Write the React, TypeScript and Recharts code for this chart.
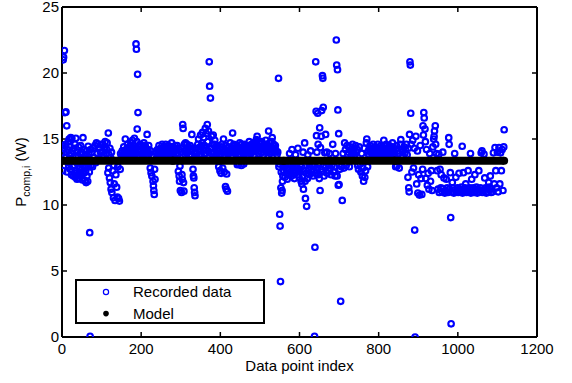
import React from 'react';
import { ScatterChart, Scatter, XAxis, YAxis, Legend } from 'recharts';

const FONT = '"Liberation Sans", Arial, Helvetica, sans-serif';

const xTicks = [0, 200, 400, 600, 800, 1000, 1200];
const yTicks = [0, 5, 10, 15, 20, 25];

// Recorded data: [data point index, P_comp,i (W)]
const recorded0: [number, number][] = [
  [0,13.9],[1,14.5],[2,12.6],[3,21.0],[4,21.2],[5,14.3],[6,21.7],[7,13.6],[8,17.0],[9,14.6],[10,17.05],[11,14.0],[12,16.0],[13,12.5],[14,14.2],[15,13.2],[16,14.8],[17,12.9],[18,15.0],[19,13.8],[20,14.4],[21,12.7],[22,15.1],[23,13.9],[24,12.3],[25,15.05],[26,14.1],[27,12.9],[28,13.6],[29,12.2],[30,14.3],[31,13.0],[32,12.4],[33,14.6],[34,12.1],[35,15.05],[36,13.7],[37,12.6],[38,11.95],[39,14.0],[40,12.3],[41,13.2],[42,14.4],[43,12.0],[44,12.8],[45,13.9],[46,12.5],[47,14.5],[48,12.2],[49,13.1],[50,14.0],[51,12.7],[52,11.9],[53,15.1],[54,13.6],[55,12.4],[56,14.2],[57,12.9],[58,11.85],[59,13.8],[60,12.6],[61,11.7],[62,14.1],[63,12.2],[64,13.5],[65,11.8],[66,14.45],[67,12.9],[68,13.9],[69,12.5],[70,7.9],[71,0.05],[72,14.2],[73,13.0],[75,14.0],[77,12.9],[79,14.3],[81,13.6],[83,14.5],[85,13.2],[87,14.7],[89,13.9],[91,14.6],[93,13.5],[95,14.3],[97,14.0],[99,14.6],
  [101,14.0],[103,14.6],[105,13.8],[107,14.4],[109,14.8],[111,13.9],[113,14.2],[114,14.7],[116,12.45],[117,15.45],[118,12.8],[119,13.8],[120,12.05],[121,14.3],[122,11.7],[123,13.6],[124,11.2],[125,14.0],[126,10.95],[128,12.6],[130,10.55],[131,13.0],[132,11.6],[134,10.35],[136,12.3],[138,11.35],[140,10.6],[141,12.9],[143,10.5],[145,10.3],[147,12.7],[148,13.9],[150,13.6],
];

const recorded1: [number, number][] = [
  [152,14.1],[153,13.8],[154,13.7],[156,14.4],[157,13.9],[158,13.9],[160,15.0],[161,14.0],[162,14.2],[164,13.6],[165,14.3],[166,14.6],[168,14.0],[169,13.8],[170,14.3],[172,13.8],[173,14.5],[174,14.7],[176,14.1],[177,13.8],[178,14.9],[180,13.9],[181,14.3],[182,14.5],[183,15.05],[185,14.2],[186,13.9],[187,22.2],[188,21.8],[189,14.8],[190,15.75],[191,19.9],[192,17.0],[193,14.4],[194,14.0],[195,13.8],[197,14.6],[198,14.2],[199,14.1],[201,14.5],[202,13.8],[203,13.9],[205,14.3],[206,14.0],[207,14.7],[209,14.0],[210,14.5],[211,14.4],[213,13.7],[214,14.2],[215,15.35],[217,14.2],[218,13.8],[219,14.5],[221,13.9],[223,12.8],[224,14.1],[225,12.45],[227,12.2],[228,13.7],[230,11.8],[231,11.45],[232,11.1],[233,10.8],[234,12.7],[235,11.95],[237,14.0],[239,13.6],
  [241,14.2],[242,13.9],[243,13.8],[245,14.5],[246,14.1],[247,14.0],[249,14.3],[250,13.9],[251,13.7],[253,14.6],[254,14.2],[255,14.1],[257,13.9],[258,14.3],[259,14.4],[261,14.0],[262,14.6],[263,13.6],[265,14.3],[266,14.0],[267,13.8],[269,14.5],[270,14.2],[271,14.0],[273,13.7],[274,14.4],[275,14.2],[277,14.7],[278,14.1],[279,13.9],[281,14.4],[282,13.8],[283,14.1],[285,13.6],[286,14.5],[287,14.3],[289,13.9],[290,14.2],[291,14.5],[293,13.8],[294,12.55],[295,14.2],[296,12.2],[297,11.8],[298,12.95],[299,11.1],[300,14.0],[302,10.95],[303,12.3],[304,11.95],[305,16.1],[306,15.8],[307,11.7],[308,11.05],[309,14.6],[310,14.1],[311,13.8],[312,14.7],[314,14.3],[315,13.9],[316,14.6],[318,14.0],[319,14.3],[320,14.4],[322,13.8],[323,14.2],[324,14.5],[326,14.1],[327,13.8],[328,15.35],[330,14.2],[331,12.7],[332,12.2],[333,12.05],[334,11.3],[335,10.95],[336,10.7],[337,13.9],
];

const recorded2: [number, number][] = [
  [339,14.3],[340,13.9],[341,13.7],[343,14.6],[344,14.2],[345,15.0],[347,14.1],[348,13.8],[349,14.4],[350,15.3],[352,13.8],[353,14.5],[354,14.7],[355,15.5],[357,14.2],[358,15.1],[359,13.9],[360,14.5],[362,15.8],[363,13.9],[364,14.3],[365,15.4],[367,16.1],[368,14.8],[369,14.1],[370,15.6],[372,20.85],[373,19.0],[375,18.1],[376,14.3],[377,13.9],[378,15.2],[380,14.6],[381,14.0],[382,15.3],[384,14.0],[385,14.6],[386,14.9],[388,14.4],[389,13.9],[390,13.8],[392,14.5],[393,14.2],[394,14.1],[396,12.9],[397,13.8],[398,14.3],[399,12.6],[401,13.9],[402,12.4],[403,14.4],[404,14.6],[406,12.8],[407,14.0],[408,15.0],[410,12.5],[411,13.8],[412,14.2],[413,11.4],[414,14.5],[415,11.2],[416,12.35],[417,14.1],[418,11.05],[419,13.8],[421,14.4],[422,13.9],[423,14.0],[425,14.7],[426,14.2],[427,13.7],[429,14.3],[430,14.0],[431,15.45],[433,14.1],[434,14.6],[435,14.5],[437,13.9],[438,14.3],[439,14.2],
  [441,14.0],[442,14.5],[443,13.05],[444,13.8],[445,14.4],[447,13.1],[448,14.1],[449,14.7],[451,13.8],[452,14.3],[453,13.0],[454,14.6],[455,14.3],[457,14.0],[458,14.4],[459,13.1],[460,13.8],[461,14.6],[463,13.9],[464,14.4],[465,14.2],[467,14.5],[468,14.0],[469,13.7],[471,14.1],[472,14.5],[473,14.8],[475,14.3],[476,13.9],[477,13.9],[479,14.6],[480,14.2],[481,14.0],[483,14.4],[484,14.7],[485,13.8],[487,14.7],[488,14.1],[489,14.2],[491,14.95],[492,14.4],[493,15.2],[495,14.5],[496,14.1],[497,13.9],[499,14.3],[500,14.7],[501,14.6],[503,14.0],[504,14.4],[505,14.8],[507,14.4],[508,14.0],[509,13.8],[511,14.6],[512,14.3],[513,14.2],[515,14.9],[516,14.5],[517,14.0],[519,14.5],[520,14.1],[521,14.3],[522,15.6],[524,14.7],[525,14.2],[526,13.9],[528,14.4],[529,14.0],[530,14.8],[531,15.1],[533,14.2],[534,14.5],[535,14.6],[537,14.0],[538,14.3],[539,14.5],[541,14.1],[543,13.8],
];

const recorded3: [number, number][] = [
  [545,14.0],[547,19.6],[548,12.9],[549,13.1],[550,9.3],[551,8.4],[552,4.2],[553,11.3],[554,12.5],[555,10.9],[556,11.1],[557,11.8],[558,12.2],[559,13.0],[560,12.6],[562,12.9],[563,12.1],[565,13.1],[566,12.4],[568,12.8],[569,11.95],[571,13.05],[572,12.3],[574,12.7],[575,13.9],[577,12.5],[578,13.0],[580,12.2],[581,14.2],[583,12.8],[584,13.1],[586,12.4],[587,12.0],[589,12.9],[590,13.8],[592,12.6],[593,13.0],[595,12.3],[596,14.3],[598,12.7],[599,12.1],[601,13.05],[602,12.5],[604,11.8],[605,12.9],[606,11.6],[608,12.2],[609,14.0],[610,11.2],[611,12.6],[613,14.7],[614,11.8],[615,10.5],[617,12.4],[618,9.9],[620,12.0],[621,13.8],[622,12.7],[624,13.1],[625,12.3],[627,12.9],[628,14.1],[630,12.5],[632,13.0],[634,12.2],
  [636,12.6],[637,13.0],[638,0.05],[639,6.8],[640,12.4],[641,20.85],[642,17.1],[643,15.25],[644,14.0],[645,12.8],[646,16.95],[647,14.6],[648,12.3],[649,13.05],[650,12.0],[651,15.85],[652,11.1],[653,14.35],[654,12.7],[655,15.2],[656,17.15],[657,12.5],[658,19.8],[659,19.6],[660,17.4],[661,13.0],[662,12.2],[664,13.95],[666,15.35],[667,12.9],[669,14.0],[670,12.4],[672,13.1],[674,12.6],[676,13.9],[678,12.8],[680,12.3],[682,13.0],[684,14.6],[686,12.5],[688,12.9],[690,12.2],[691,13.9],[693,22.5],[694,20.6],[695,12.2],[696,20.25],[697,17.2],[698,11.5],[699,15.4],[700,11.55],[702,12.7],[704,2.7],[706,12.9],[708,10.35],
];

const recorded4: [number, number][] = [
  [710,13.9],[712,12.8],[714,14.7],[716,14.2],[718,13.0],[720,14.5],[722,13.8],[724,14.0],[726,12.9],[728,14.4],[730,13.7],[732,14.1],[734,14.6],[736,13.9],[738,14.3],[740,13.8],[742,14.5],[744,14.0],[746,14.2],[747,13.0],[749,12.7],[751,14.4],[753,13.1],[755,12.5],[757,13.9],[759,12.2],[760,12.8],[762,11.8],[763,14.3],[765,12.1],[767,12.6],[769,14.7],[770,15.0],[772,12.9],[774,14.1],[775,13.8],[776,13.8],[778,14.5],[779,14.2],[780,14.0],[782,14.3],[783,13.9],[784,13.7],[786,14.6],[787,14.0],[788,14.1],[790,13.9],[791,14.4],[792,14.4],[794,14.2],[795,13.8],[796,13.8],[798,14.6],[799,14.1],[800,14.0],[802,14.3],[803,13.8],[804,13.7],[806,14.5],[807,14.0],[808,14.1],[810,14.4],[811,13.8],[812,13.9],[813,14.9],[815,14.2],[816,14.5],[817,13.8],[819,14.6],[820,14.1],[821,14.0],[823,14.3],[824,13.9],[825,13.7],[827,14.5],[828,14.2],[829,14.1],[831,13.9],[832,14.3],[833,14.4],[835,14.7],[836,14.1],[837,14.0],[839,14.3],[840,13.9],[841,13.8],[843,12.9],[845,14.5],[846,12.95],[848,14.1],[850,13.9],[852,12.8],[854,14.6],[856,14.95],[858,14.2],
  [860,14.0],[862,13.7],[864,14.4],[866,13.9],[868,14.2],[870,14.6],[872,13.8],[874,12.1],[875,14.3],[876,11.3],[877,11.0],[878,15.35],[879,20.85],[880,20.6],[881,16.95],[882,14.6],[884,12.5],[886,14.9],[888,12.8],[890,14.3],[891,8.1],[892,0.0],[894,15.2],[896,11.6],[898,14.1],[899,10.9],[901,12.3],[903,10.75],[905,14.5],[907,12.0],[909,10.8],[911,12.7],[912,16.0],[913,15.3],[914,17.0],[915,16.6],[917,15.75],[918,14.8],[919,12.0],[921,14.2],[923,11.5],[925,12.4],[927,11.2],[929,13.9],[931,11.8],[933,12.6],[935,11.1],[937,14.4],[939,15.0],[940,15.2],[941,15.6],[943,16.0],[944,14.6],
];

const recorded5: [number, number][] = [
  [946,13.9],[948,12.6],[950,11.2],[952,13.85],[953,10.95],[955,12.7],[957,11.3],[958,12.3],[960,11.0],[962,14.0],[963,11.25],[965,12.05],[967,10.9],[969,11.1],[971,11.95],[973,11.3],[975,10.95],[977,15.1],[978,14.6],[979,11.2],[981,12.45],[982,9.05],[983,1.0],[984,11.0],[986,11.7],[988,11.3],[990,10.9],[992,13.9],[993,11.15],[995,12.1],[997,11.0],[999,11.3],[1001,10.95],[1003,12.4],[1005,11.2],[1007,11.0],[1009,11.35],[1011,14.45],[1012,10.9],[1014,12.45],[1016,11.1],[1018,11.3],[1020,11.6],[1022,10.95],[1024,11.2],[1026,12.6],[1028,11.0],[1030,11.3],[1032,13.9],[1033,10.9],[1035,11.95],[1037,11.15],[1039,11.3],[1041,10.95],[1043,12.3],[1045,11.1],[1047,11.35],[1049,10.9],[1051,11.2],[1053,12.6],[1055,11.0],[1057,11.3],[1059,13.95],[1061,14.1],[1062,10.95],[1064,11.15],[1066,13.85],[1068,12.05],[1070,11.3],[1072,10.9],[1074,11.2],[1076,11.0],[1078,11.7],[1080,11.35],[1082,12.2],[1084,10.95],[1086,11.2],[1088,11.0],[1090,13.95],[1092,11.6],[1094,14.35],[1096,12.6],[1098,11.3],[1100,14.0],[1102,11.0],[1104,14.35],[1106,11.6],[1108,13.95],[1110,12.6],[1112,14.2],[1114,11.1],[1116,14.4],[1117,15.7],
];

// Model: predicted power across the data points
const modelIndex = [0, 280, 560, 840, 1117];
const modelPower = [13.35, 13.35, 13.35, 13.35, 13.35];

const recordedData = [...recorded0, ...recorded1, ...recorded2, ...recorded3, ...recorded4, ...recorded5].map(
  ([x, y]) => ({ x, y })
);
const modelData = modelIndex.map((x, i) => ({ x, y: modelPower[i] }));

const RecordedDot = (p: any) => (
  <circle cx={p.cx} cy={p.cy} r={2.8} fill="none" stroke="#0000ff" strokeWidth={2.1} />
);
const ModelDot = (p: any) => <circle cx={p.cx} cy={p.cy} r={4} fill="#000" />;

const renderLegend = () => (
  <svg width={190} height={45} style={{ display: 'block' }}>
    <rect x={1} y={1} width={188} height={43} fill="#fff" stroke="#000" strokeWidth={2} />
    <circle cx={31} cy={13} r={2.6} fill="none" stroke="#0000ff" strokeWidth={1.2} />
    <text x={58} y={18.4} fontSize={15} fontFamily={FONT} fill="#000">Recorded data</text>
    <circle cx={31} cy={34.6} r={2.8} fill="#000" />
    <text x={58} y={40} fontSize={15} fontFamily={FONT} fill="#000">Model</text>
  </svg>
);

const renderXLabel = (props: any) => {
  const vb = props.viewBox || { x: 62, y: 337, width: 475, height: 30 };
  return (
    <text x={vb.x + vb.width / 2} y={vb.y + 34} textAnchor="middle" fontSize={15} fontFamily={FONT} fill="#000">
      Data point index
    </text>
  );
};

const renderYLabel = (props: any) => {
  const vb = props.viewBox || { x: 2, y: 6, width: 60, height: 331 };
  const cy = vb.y + vb.height / 2;
  const cx = 26;
  return (
    <text x={cx} y={cy} transform={`rotate(-90, ${cx}, ${cy})`} textAnchor="middle" fontSize={15} fontFamily={FONT} fill="#000">
      <tspan>P</tspan>
      <tspan fontSize={10.5} dy={4}>comp,i</tspan>
      <tspan dy={-4}> (W)</tspan>
    </text>
  );
};

const tickStyle = { fill: '#000', fontSize: 15, fontFamily: FONT };
const axisLine = { stroke: '#000', strokeWidth: 2 };
const tickLineStyle = { stroke: '#000', strokeWidth: 1.5 };

export default function App() {
  return (
    <div style={{ position: 'absolute', left: 0, top: 0, width: 572, height: 383, background: '#fff' }}>
      <ScatterChart width={572} height={383} margin={{ top: 6, right: 34, bottom: 16, left: 2 }}>
        <XAxis
          xAxisId="b"
          type="number"
          dataKey="x"
          orientation="bottom"
          domain={[0, 1200]}
          ticks={xTicks}
          interval={0}
          height={30}
          tickSize={-5}
          tickMargin={11}
          tick={tickStyle}
          axisLine={axisLine}
          tickLine={tickLineStyle}
          label={renderXLabel}
          allowDataOverflow
        />
        <XAxis
          xAxisId="t"
          type="number"
          dataKey="x"
          orientation="top"
          domain={[0, 1200]}
          ticks={xTicks}
          interval={0}
          height={1}
          tickSize={-5}
          tickFormatter={() => ''}
          axisLine={axisLine}
          tickLine={tickLineStyle}
          allowDataOverflow
        />
        <YAxis
          yAxisId="l"
          type="number"
          dataKey="y"
          orientation="left"
          domain={[0, 25]}
          ticks={yTicks}
          interval={0}
          width={60}
          tickSize={-5}
          tickMargin={8}
          tick={tickStyle}
          axisLine={axisLine}
          tickLine={tickLineStyle}
          label={renderYLabel}
          allowDataOverflow
        />
        <YAxis
          yAxisId="r"
          type="number"
          dataKey="y"
          orientation="right"
          domain={[0, 25]}
          ticks={yTicks}
          interval={0}
          width={1}
          tickSize={-5}
          tickFormatter={() => ''}
          axisLine={axisLine}
          tickLine={tickLineStyle}
          allowDataOverflow
        />
        <Scatter
          name="Recorded data"
          data={recordedData}
          xAxisId="b"
          yAxisId="l"
          shape={RecordedDot}
          isAnimationActive={false}
        />
        <Scatter
          name="Model"
          data={modelData}
          xAxisId="b"
          yAxisId="l"
          shape={ModelDot}
          line={{ stroke: '#000', strokeWidth: 8 }}
          isAnimationActive={false}
        />
        <Legend
          content={renderLegend}
          layout="vertical"
          align="center"
          verticalAlign="middle"
          wrapperStyle={{ left: 75, top: 279, width: 190, height: 45 }}
        />
      </ScatterChart>
    </div>
  );
}
